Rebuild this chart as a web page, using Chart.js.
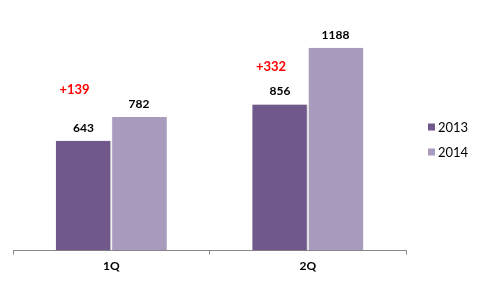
<!DOCTYPE html>
<html>
<head>
<meta charset="utf-8">
<script src="https://cdn.jsdelivr.net/npm/chart.js@4"></script>
<style>
  html, body { margin: 0; padding: 0; background: #fff; }
  #wrap { width: 477px; height: 281px; position: relative; }
</style>
</head>
<body>
<div id="wrap"><canvas id="myChart"></canvas></div>
<script>
var trimestres = ['1Q', '2Q'];
var ventas2013 = [643, 856];
var ventas2014 = [782, 1188];
var diferencias = ['+139', '+332'];
var alturaDiferencias = [940, 1075]; // en unidades del eje y

var colorOscuro = '#70588C';
var colorClaro = '#A99BBD';

// sombra suave de las barras
var sombraBarras = {
  id: 'sombraBarras',
  beforeDatasetsDraw: function(chart) {
    var ctx = chart.ctx;
    ctx.save();
    ctx.shadowColor = 'rgba(0,0,0,0.22)';
    ctx.shadowBlur = 2;
    ctx.shadowOffsetX = 1;
    ctx.shadowOffsetY = 0;
  },
  afterDatasetsDraw: function(chart) {
    chart.ctx.restore();
  }
};

var etiquetasValores = {
  id: 'etiquetasValores',
  afterDatasetsDraw: function(chart) {
    var ctx = chart.ctx;
    ctx.save();
    ctx.textAlign = 'center';
    ctx.textBaseline = 'middle';
    ctx.font = 'bold 12px Lato';
    ctx.fillStyle = '#000';
    chart.data.datasets.forEach(function(ds, i) {
      var meta = chart.getDatasetMeta(i);
      meta.data.forEach(function(bar, j) {
        ctx.fillText(ds.data[j], bar.x, bar.y - 13);
      });
    });
    // diferencias en rojo
    var meta0 = chart.getDatasetMeta(0);
    var y = chart.scales.y;
    ctx.fillStyle = '#FF0000';
    ctx.font = 'bold 13px Lato';
    meta0.data.forEach(function(bar, j) {
      ctx.fillText(diferencias[j], bar.x - 9, y.getPixelForValue(alturaDiferencias[j]));
    });
    ctx.restore();
  }
};

// leyenda a la derecha
var leyenda = {
  id: 'leyenda',
  afterDraw: function(chart) {
    var ctx = chart.ctx;
    var area = chart.chartArea;
    var x = area.right + 22;
    var y0 = 127;
    ctx.save();
    ctx.font = '13px Lato';
    ctx.textBaseline = 'middle';
    ctx.textAlign = 'left';
    chart.data.datasets.forEach(function(ds, i) {
      var y = y0 + i * 25;
      ctx.fillStyle = ds.backgroundColor;
      ctx.fillRect(x, y - 3.5, 7, 7);
      ctx.fillStyle = '#000';
      ctx.fillText(ds.label, x + 10, y + 0.5);
    });
    ctx.restore();
  }
};

var ctx = document.getElementById('myChart').getContext('2d');
var myChart = new Chart(ctx, {
  type: 'bar',
  data: {
    labels: trimestres,
    datasets: [{
      label: '2013',
      data: ventas2013,
      backgroundColor: colorOscuro,
      borderColor: '#fff',
      borderWidth: { right: 1 },
      borderSkipped: false
    }, {
      label: '2014',
      data: ventas2014,
      backgroundColor: colorClaro,
      borderColor: '#fff',
      borderWidth: { left: 1 },
      borderSkipped: false
    }]
  },
  options: {
    responsive: true,
    maintainAspectRatio: false,
    animation: false,
    layout: { padding: { left: 13, right: 71, top: 3, bottom: 4 } },
    datasets: { bar: { categoryPercentage: 0.565, barPercentage: 1 } },
    plugins: {
      legend: { display: false },
      tooltip: { enabled: false }
    },
    scales: {
      x: {
        border: { display: true, color: '#888' },
        grid: { display: true, drawOnChartArea: false, offset: true, color: '#888', tickLength: 4 },
        ticks: { color: '#000', font: { family: 'Lato', size: 12, weight: 'bold' }, padding: 4 }
      },
      y: {
        display: false,
        min: 0,
        max: 1450
      }
    }
  },
  plugins: [sombraBarras, etiquetasValores, leyenda]
});
</script>
</body>
</html>
